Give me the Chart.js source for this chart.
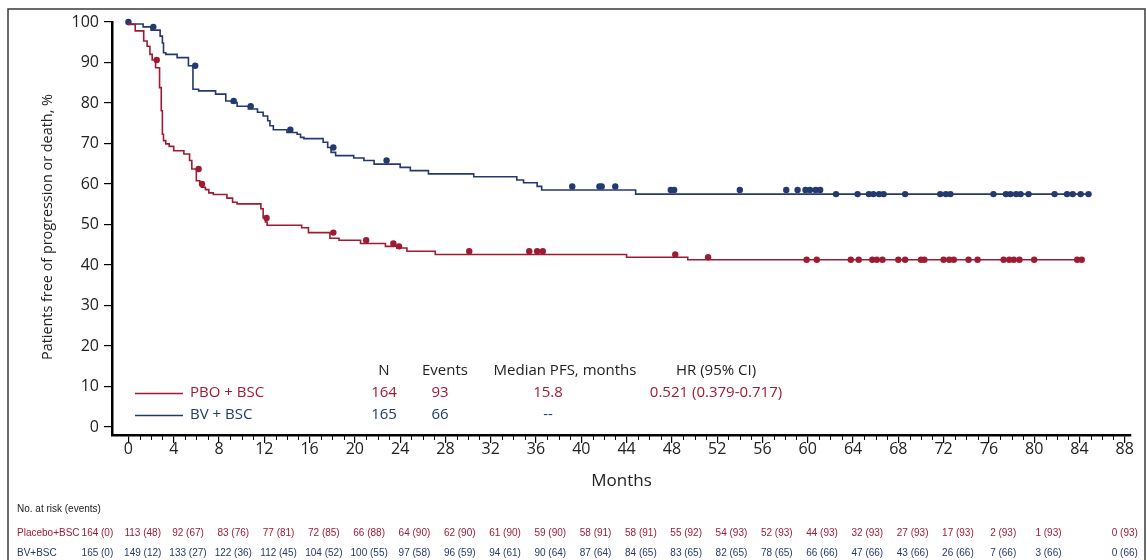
<!DOCTYPE html>
<html lang="en">
<head>
<meta charset="UTF-8">
<title>PFS - BV + BSC vs PBO + BSC</title>
<style>
  body { margin: 0; background: #fff; }
  #wrap { width: 1147px; height: 560px; position: relative; }
</style>
<script src="https://cdn.jsdelivr.net/npm/chart.js"></script>
</head>
<body>
<div id="wrap"><canvas id="km"></canvas></div>
<script>
// Kaplan-Meier steps (months, % free of progression or death)
const pboTimes = [0, 0.6, 1.35, 1.65, 1.9, 2.1, 2.4, 2.75, 2.9, 3.0, 3.1, 3.3, 3.6, 4.0, 4.9, 5.4, 5.6, 6.0, 6.3, 6.45, 6.8, 7.1, 7.5, 8.7, 9.2, 9.6, 11.7, 11.9, 12.1, 12.25, 15.3, 15.9, 17.8, 18.6, 20.5, 22.7, 23.7, 24.6, 27.1, 44.0, 49.4, 55.3, 84.3];
const pboSurv  = [100, 99.4, 97.8, 95.3, 94.0, 92.0, 90.6, 88.7, 83.8, 78.1, 72.3, 70.7, 69.9, 69.3, 68.2, 67.4, 65.8, 63.7, 60.8, 60.0, 59.2, 58.6, 57.8, 57.4, 56.5, 55.5, 55.1, 53.9, 51.6, 50.6, 49.8, 49.2, 48.0, 46.6, 46.1, 45.3, 44.6, 44.2, 43.4, 42.6, 41.9, 41.3, 41.3];
const pboCensor = [2.5, 6.2, 6.5, 12.2, 18.1, 21.0, 23.4, 23.9, 30.1, 35.4, 36.1, 36.6, 48.3, 51.2, 59.9, 60.8, 63.8, 64.5, 65.7, 66.1, 66.6, 68.0, 68.6, 70.0, 70.3, 72.0, 72.5, 72.9, 74.2, 75.0, 77.3, 77.8, 78.2, 78.7, 80.0, 83.8, 84.2];

const bvTimes = [0, 1.3, 2.0, 2.8, 3.0, 3.1, 3.3, 4.3, 5.3, 5.7, 6.2, 7.7, 8.6, 9.1, 9.6, 10.6, 11.4, 11.9, 12.3, 12.5, 12.8, 14.0, 14.9, 15.2, 15.5, 17.2, 17.6, 17.9, 18.3, 19.9, 20.8, 21.7, 24.0, 24.9, 26.5, 30.5, 34.3, 34.9, 36.1, 36.5, 44.8, 62.0, 84.9];
const bvSurv  = [100, 99.5, 98.8, 98.0, 96.5, 94.8, 92.4, 92.0, 91.2, 89.2, 83.4, 83.0, 82.2, 80.5, 80.1, 79.2, 78.5, 77.7, 76.8, 75.6, 74.4, 73.4, 72.7, 72.3, 71.5, 71.2, 70.3, 69.0, 67.8, 67.0, 66.4, 65.8, 64.9, 64.1, 63.3, 62.5, 61.8, 61.0, 60.3, 59.4, 58.5, 57.5, 57.5];
const bvCensor = [0, 2.2, 5.9, 9.3, 10.8, 14.3, 18.1, 22.8, 39.2, 41.6, 41.8, 43.0, 47.9, 48.2, 54.0, 58.1, 59.1, 59.8, 60.2, 60.7, 61.1, 62.5, 64.4, 65.4, 65.8, 66.3, 66.7, 68.6, 71.7, 72.2, 72.6, 76.4, 77.5, 77.9, 78.4, 78.8, 79.5, 81.8, 82.9, 83.4, 84.1, 84.8];

// axis ticks
const xTicks = [0, 4, 8, 12, 16, 20, 24, 28, 32, 36, 40, 44, 48, 52, 56, 60, 64, 68, 72, 76, 80, 84, 88];
const yTicks = [0, 10, 20, 30, 40, 50, 60, 70, 80, 90, 100];

// summary table
const tableHead = ['N', 'Events', 'Median PFS, months', 'HR (95% CI)'];
const pboRow = ['164', '93', '15.8', '0.521 (0.379-0.717)'];
const bvRow = ['165', '66', '--', ''];

// number at risk (events), one entry per x tick
const pboAtRisk = ['164 (0)', '113 (48)', '92 (67)', '83 (76)', '77 (81)', '72 (85)', '66 (88)', '64 (90)', '62 (90)', '61 (90)', '59 (90)', '58 (91)', '58 (91)', '55 (92)', '54 (93)', '52 (93)', '44 (93)', '32 (93)', '27 (93)', '17 (93)', '2 (93)', '1 (93)', '0 (93)'];
const bvAtRisk = ['165 (0)', '149 (12)', '133 (27)', '122 (36)', '112 (45)', '104 (52)', '100 (55)', '97 (58)', '96 (59)', '94 (61)', '90 (64)', '87 (64)', '84 (65)', '83 (65)', '82 (65)', '78 (65)', '66 (66)', '47 (66)', '43 (66)', '26 (66)', '7 (66)', '3 (66)', '0 (66)'];

const RED = '#9e1b33';
const BLUE = '#23396f';
const FONT = "'Open Sans', 'Noto Sans', sans-serif";
const SMALL_FONT = "'Liberation Sans', Arial, sans-serif";

function toPoints(times, surv) {
    return times.map((t, i) => ({ x: t, y: surv[i] }));
}

// censored marks sit on the curve: look up the step value at that time
function censorPoints(times, surv, censor) {
    return censor.map(t => {
        let v = surv[0];
        for (let i = 0; i < times.length; i++) {
            if (times[i] <= t) v = surv[i];
        }
        return { x: t, y: v };
    });
}

const extras = {
    id: 'extras',
    afterDraw(chart) {
        const ctx = chart.ctx;
        const xs = chart.scales.x;
        const area = chart.chartArea;
        ctx.save();

        // outer frame
        ctx.strokeStyle = '#3a3a3a';
        ctx.lineWidth = 1.5;
        ctx.strokeRect(8, 9, 1137, 600);

        // minor ticks every month
        ctx.strokeStyle = '#000';
        ctx.lineWidth = 1;
        for (let m = 1; m < 88; m++) {
            if (m % 4 === 0) continue;
            const px = Math.round(xs.getPixelForValue(m)) + 0.5;
            ctx.beginPath();
            ctx.moveTo(px, area.bottom);
            ctx.lineTo(px, area.bottom + 5);
            ctx.stroke();
        }

        // y axis title, squeezed to the original width
        ctx.fillStyle = '#222';
        ctx.font = '15px ' + FONT;
        ctx.textAlign = 'center';
        ctx.textBaseline = 'middle';
        const yTitle = 'Patients free of progression or death, %';
        const w = ctx.measureText(yTitle).width;
        ctx.save();
        ctx.translate(48, 227);
        ctx.rotate(-Math.PI / 2);
        if (w > 266) ctx.scale(266 / w, 1);
        ctx.fillText(yTitle, 0, 0);
        ctx.restore();

        // x axis title
        ctx.font = '17px ' + FONT;
        ctx.fillText('Months', (area.left + area.right) / 2, 481);

        // summary table
        const cols = [384, 445, 565, 716];
        ctx.font = '15px ' + FONT;
        ctx.fillStyle = '#222';
        tableHead.forEach((h, i) => ctx.fillText(h, cols[i], 371));
        const rows = [[pboRow, RED, 'PBO + BSC', 393], [bvRow, BLUE, 'BV + BSC', 415]];
        rows.forEach(([vals, col, name, y]) => {
            ctx.strokeStyle = col;
            ctx.lineWidth = 1.5;
            ctx.beginPath();
            ctx.moveTo(135, y + 0.5);
            ctx.lineTo(183, y + 0.5);
            ctx.stroke();
            ctx.fillStyle = col;
            ctx.textAlign = 'left';
            ctx.fillText(name, 190, y);
            ctx.textAlign = 'center';
            const valCols = [384, 440, 548, 716];
            vals.forEach((v, i) => ctx.fillText(v, valCols[i], y));
        });

        // number at risk
        ctx.font = '10px ' + SMALL_FONT;
        ctx.textAlign = 'left';
        ctx.fillStyle = '#222';
        ctx.fillText('No. at risk (events)', 17, 509);
        ctx.fillStyle = RED;
        ctx.fillText('Placebo+BSC', 17, 533);
        ctx.fillStyle = BLUE;
        ctx.fillText('BV+BSC', 17, 553);
        ctx.textAlign = 'center';
        xTicks.forEach((m, i) => {
            const shift = i === xTicks.length - 1 ? 0 : -31;
            const cx = xs.getPixelForValue(m) + shift;
            ctx.fillStyle = RED;
            ctx.fillText(pboAtRisk[i], cx, 533);
            ctx.fillStyle = BLUE;
            ctx.fillText(bvAtRisk[i], cx, 553);
        });

        ctx.restore();
    }
};

new Chart(document.getElementById('km'), {
    type: 'line',
    data: {
        datasets: [
            {
                label: 'PBO + BSC',
                data: toPoints(pboTimes, pboSurv),
                borderColor: RED,
                borderWidth: 1.6,
                stepped: 'after',
                pointRadius: 0,
                fill: false,
                clip: false
            },
            {
                label: 'BV + BSC',
                data: toPoints(bvTimes, bvSurv),
                borderColor: BLUE,
                borderWidth: 1.6,
                stepped: 'after',
                pointRadius: 0,
                fill: false,
                clip: false
            },
            {
                label: 'PBO censored',
                data: censorPoints(pboTimes, pboSurv, pboCensor),
                showLine: false,
                pointRadius: 3.2,
                pointBackgroundColor: RED,
                pointBorderWidth: 0,
                clip: false
            },
            {
                label: 'BV censored',
                data: censorPoints(bvTimes, bvSurv, bvCensor),
                showLine: false,
                pointRadius: 3.2,
                pointBackgroundColor: BLUE,
                pointBorderWidth: 0,
                clip: false
            }
        ]
    },
    options: {
        responsive: true,
        maintainAspectRatio: false,
        animation: false,
        layout: { padding: { top: 22, right: 16, left: 0, bottom: 0 } },
        plugins: {
            legend: { display: false },
            tooltip: { enabled: false }
        },
        scales: {
            x: {
                type: 'linear',
                min: -1.45,
                max: 88.55,
                afterBuildTicks: scale => { scale.ticks = xTicks.map(v => ({ value: v })); },
                afterFit: scale => { scale.height = 125; },
                grid: { drawOnChartArea: false, color: '#000', tickLength: 8, lineWidth: 1.2 },
                border: { display: true, color: '#000', width: 2.5 },
                ticks: { autoSkip: false, maxRotation: 0, color: '#222', padding: -3, font: { family: FONT, size: 16 } }
            },
            y: {
                min: -1.98,
                max: 100,
                afterBuildTicks: scale => { scale.ticks = yTicks.map(v => ({ value: v })); },
                afterFit: scale => { scale.width = 112; },
                grid: { drawOnChartArea: false, color: '#000', tickLength: 8, lineWidth: 1.2 },
                border: { display: true, color: '#000', width: 2.5 },
                ticks: { color: '#222', padding: 5, font: { family: FONT, size: 16 } }
            }
        }
    },
    plugins: [extras]
});
</script>
</body>
</html>
